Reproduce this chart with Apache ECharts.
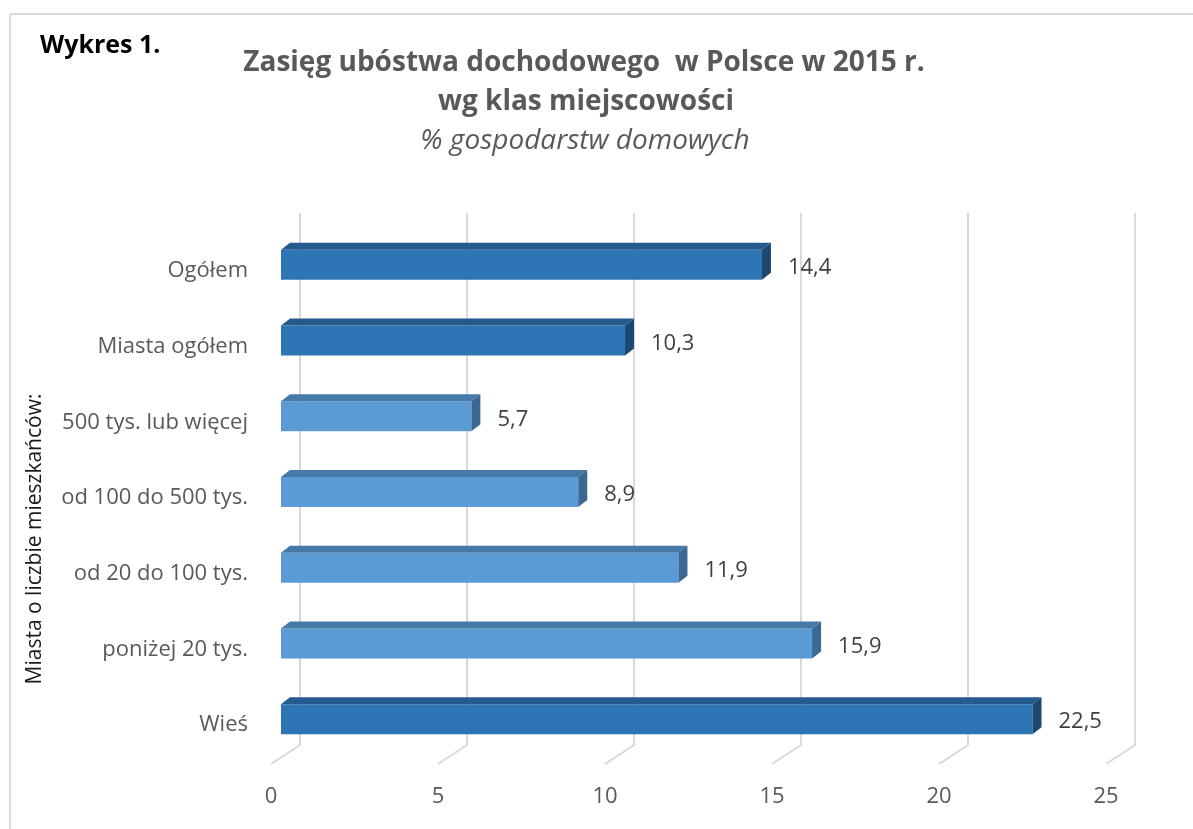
<!DOCTYPE html>
<html>
<head>
<meta charset="utf-8">
<script src="https://cdn.jsdelivr.net/npm/echarts@6/dist/echarts.min.js"></script>
<style>
  html, body { margin: 0; padding: 0; background: #fff; }
  #chart { width: 1193px; height: 829px; }
</style>
</head>
<body>
<div id="chart"></div>
<script>
// dane z wykresu
var categories = ['Ogółem', 'Miasta ogółem', '500 tys. lub więcej', 'od 100 do 500 tys.', 'od 20 do 100 tys.', 'poniżej 20 tys.', 'Wieś'];
var values = [14.4, 10.3, 5.7, 8.9, 11.9, 15.9, 22.5];
var isTotal = [true, true, false, false, false, false, true];   // ciemniejsze słupki
var ticks = [0, 5, 10, 15, 20, 25];

var FONT = '"Open Sans"';
var SHIFT = 19;          // przesunięcie przedniej ściany słupka względem tylnej ściany
var DX = 9, DY = -7;     // głębokość 3D
var DARK = { front: '#2e75b6', top: '#245a8e', side: '#1d4872' };
var LIGHT = { front: '#5b9bd5', top: '#4679a8', side: '#3b6892' };

var barData = values.map(function (v, i) { return [v, i, isTotal[i] ? 1 : 0]; });

function renderBar(params, api) {
  var v = api.value(0), idx = api.value(1);
  var c = api.value(2) ? DARK : LIGHT;
  var p0 = api.coord([0, idx]), p1 = api.coord([v, idx]);
  var cy = p0[1] + 14;
  var fx0 = p0[0] - SHIFT, fx1 = p1[0] - SHIFT;
  var fy0 = cy - 15, fy1 = cy + 15;
  return {
    type: 'group',
    children: [
      { type: 'rect', shape: { x: fx0, y: fy0, width: fx1 - fx0, height: fy1 - fy0 }, style: { fill: c.front } },
      { type: 'polygon', shape: { points: [[fx0, fy0], [fx1, fy0], [fx1 + DX, fy0 + DY], [fx0 + DX, fy0 + DY]] }, style: { fill: c.top } },
      { type: 'polygon', shape: { points: [[fx1, fy0], [fx1 + DX, fy0 + DY], [fx1 + DX, fy1 + DY], [fx1, fy1]] }, style: { fill: c.side } },
      { type: 'text', x: fx1 + DX + 17, y: cy + 3, style: {
          text: String(v).replace('.', ','), fill: '#404040', font: '22px ' + FONT,
          align: 'left', verticalAlign: 'middle' } }
    ]
  };
}

// ukośne linie podłogi pod siatką
function renderFloor(params, api) {
  var t = api.value(0);
  var cs = params.coordSys;
  var x = api.coord([t, 0])[0];
  var yb = cs.y + cs.height;
  return {
    type: 'polyline',
    shape: { points: [[x, yb], [x, yb + 2], [x - 29, yb + 21]] },
    style: { stroke: '#d9d9d9', lineWidth: 2, fill: null }
  };
}

var chart = echarts.init(document.getElementById('chart'));
chart.setOption({
  animation: false,
  grid: { left: 300, right: 58, top: 213, bottom: 86 },
  xAxis: {
    type: 'value', min: 0, max: 25, interval: 5,
    axisLine: { show: false }, axisTick: { show: false },
    splitLine: { lineStyle: { color: '#d9d9d9', width: 2 } },
    axisLabel: { color: '#595959', fontFamily: 'Open Sans', fontSize: 22, margin: 43, padding: [0, 58, 0, 0] }
  },
  yAxis: {
    type: 'category', data: categories, inverse: true,
    axisLine: { show: false }, axisTick: { show: false },
    axisLabel: { color: '#595959', fontFamily: 'Open Sans', fontSize: 22, margin: 52,
      verticalAlign: 'top', lineHeight: 40 }
  },
  series: [
    { type: 'custom', data: ticks.map(function (t) { return [t]; }), renderItem: renderFloor, silent: true, z: 1 },
    { type: 'custom', data: barData, renderItem: renderBar, encode: { x: 0, y: 1 }, z: 2 }
  ],
  graphic: [
    { type: 'line', shape: { x1: 10, y1: 14, x2: 1193, y2: 14 }, style: { stroke: '#d9d9d9', lineWidth: 2 } },
    { type: 'line', shape: { x1: 10, y1: 14, x2: 10, y2: 829 }, style: { stroke: '#d9d9d9', lineWidth: 2 } },
    { type: 'text', x: 40, y: 46, style: { text: 'Wykres 1.', font: 'bold 25px ' + FONT, fill: '#000', verticalAlign: 'middle' } },
    { type: 'text', x: 584, y: 63, style: { text: 'Zasięg ubóstwa dochodowego  w Polsce w 2015 r.', font: 'bold 28px ' + FONT, fill: '#595959', align: 'center', verticalAlign: 'middle' } },
    { type: 'text', x: 586, y: 102, style: { text: 'wg klas miejscowości', font: 'bold 28px ' + FONT, fill: '#595959', align: 'center', verticalAlign: 'middle' } },
    { type: 'text', x: 585, y: 141, style: { text: '% gospodarstw domowych', font: 'italic 28px ' + FONT, fill: '#595959', align: 'center', verticalAlign: 'middle' } },
    { type: 'text', x: 35, y: 539, rotation: Math.PI / 2, style: { text: 'Miasta o liczbie mieszkańców:', font: '21px ' + FONT, fill: '#1a1a1a', align: 'center', verticalAlign: 'middle' } }
  ]
});
</script>
</body>
</html>
